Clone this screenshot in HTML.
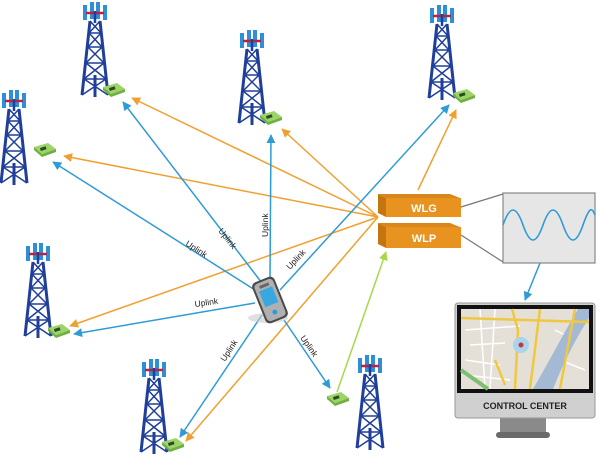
<!DOCTYPE html>
<html><head><meta charset="utf-8"><style>
html,body{margin:0;padding:0;background:#fff;}
svg{display:block;font-family:"Liberation Sans",sans-serif;}
</style></head><body>
<svg width="601" height="462" viewBox="0 0 601 462" xmlns="http://www.w3.org/2000/svg">
<defs>
<marker id="ab" viewBox="0 0 10 10" refX="9" refY="5" markerWidth="6" markerHeight="6" orient="auto"><path d="M0,0L10,5L0,10z" fill="#2e9bd6"/></marker>
<marker id="ao" viewBox="0 0 10 10" refX="9" refY="5" markerWidth="6" markerHeight="6" orient="auto"><path d="M0,0L10,5L0,10z" fill="#f0a030"/></marker>
<marker id="ag" viewBox="0 0 10 10" refX="9" refY="5" markerWidth="6" markerHeight="6" orient="auto"><path d="M0,0L10,5L0,10z" fill="#a8d84a"/></marker>
<g id="tw">
 <g stroke="#1f3f9a" fill="none">
  <path d="M-13,0 L-5,-74 M13,0 L5,-74 M0,2 L0,-20" stroke-width="3"/>
  <path d="M-11,-16 L11,-16 M-9,-32 L9,-32 M-7,-48 L7,-48 M-6,-62 L6,-62 M-11,-16 L9,-32 M11,-16 L-9,-32 M-9,-32 L7,-48 M9,-32 L-7,-48 M-7,-48 L6,-62 M7,-48 L-6,-62 M-6,-62 L5,-74 M6,-62 L-5,-74 M-13,0 L11,-16 M13,0 L-11,-16" stroke-width="1.5"/>
 </g>
 <rect x="-12" y="-90" width="4" height="15" fill="#2e8fd6"/>
 <rect x="-5" y="-93" width="4" height="17" fill="#2e8fd6"/>
 <rect x="1" y="-93" width="4" height="17" fill="#2e8fd6"/>
 <rect x="8" y="-90" width="4" height="15" fill="#2e8fd6"/>
 <path d="M-9,-82 L9,-82" stroke="#c02040" stroke-width="2.5"/>
 <path d="M0,-84 L0,-72" stroke="#1f3f9a" stroke-width="2.5"/>
</g>
<g id="lmu">
 <path d="M-10,-4 L4,-8 L12,-2 L-2,3 Z" fill="#9cd46a"/>
 <path d="M-10,-4 L-2,3 L-2,6 L-10,-1 Z M-2,3 L12,-2 L12,1 L-2,6 Z" fill="#6fb040"/>
 <rect x="-3" y="-4" width="6" height="3" fill="#2a4a20" transform="rotate(-18)"/>
</g>
</defs>

<use href="#tw" x="95" y="95"/>
<use href="#tw" x="252" y="123"/>
<use href="#tw" x="14" y="183"/>
<use href="#tw" x="442" y="98"/>
<use href="#tw" x="38" y="336"/>
<use href="#tw" x="154" y="452"/>
<use href="#tw" x="370" y="448"/>

<use href="#lmu" x="113" y="91"/>
<use href="#lmu" x="270" y="119"/>
<use href="#lmu" x="44" y="151"/>
<use href="#lmu" x="463" y="97"/>
<use href="#lmu" x="58" y="332"/>
<use href="#lmu" x="172" y="446"/>
<use href="#lmu" x="337" y="400"/>

<g stroke="#f0a030" stroke-width="1.5" fill="none" marker-end="url(#ao)">
 <line x1="378" y1="217" x2="132" y2="98"/>
 <line x1="378" y1="217" x2="64" y2="156"/>
 <line x1="378" y1="217" x2="282" y2="129"/>
 <line x1="418" y1="190" x2="456" y2="110"/>
 <line x1="378" y1="217" x2="70" y2="326"/>
 <line x1="378" y1="217" x2="186" y2="441"/>
</g>
<g stroke="#2e9bd6" stroke-width="1.5" fill="none" marker-end="url(#ab)">
 <line x1="262" y1="283" x2="123" y2="102"/>
 <line x1="255" y1="290" x2="53" y2="162"/>
 <line x1="270" y1="277" x2="271" y2="135"/>
 <line x1="280" y1="290" x2="449" y2="105"/>
 <line x1="255" y1="303" x2="74" y2="334"/>
 <line x1="262" y1="315" x2="180" y2="437"/>
 <line x1="284" y1="320" x2="330" y2="388"/>
 <line x1="540" y1="263" x2="525" y2="300"/>
</g>
<line x1="337" y1="392" x2="386" y2="252" stroke="#a8d84a" stroke-width="1.5" marker-end="url(#ag)"/>

<g font-size="8.5" fill="#222">
 <text x="0" y="0" transform="translate(218,231) rotate(52)">Uplink</text>
 <text x="0" y="0" transform="translate(185,245) rotate(33)">Uplink</text>
 <text x="0" y="0" transform="translate(268,237) rotate(-90)">Uplink</text>
 <text x="0" y="0" transform="translate(290,270) rotate(-47)">Uplink</text>
 <text x="0" y="0" transform="translate(195,307) rotate(-8)">Uplink</text>
 <text x="0" y="0" transform="translate(225,362) rotate(-57)">Uplink</text>
 <text x="0" y="0" transform="translate(300,338) rotate(55)">Uplink</text>
</g>

<ellipse cx="268" cy="318" rx="20" ry="5" fill="#ccc" opacity="0.6"/>
<g transform="translate(270,300) rotate(-22)">
 <rect x="-12" y="-22" width="24" height="44" rx="5" fill="#4a4a4a"/>
 <rect x="-10" y="-20" width="20" height="40" rx="4" fill="#b0b0b0"/>
 <rect x="-7" y="-12" width="14" height="17" fill="#3aa8e0"/>
 <rect x="-5" y="-17" width="10" height="3" fill="#666"/>
 <circle cx="0" cy="13" r="2.5" fill="#2e9bd6"/>
</g>

<g>
 <path d="M378,194 L450,194 L460,198 L386,198 Z" fill="#d9861a"/>
 <path d="M378,194 L386,198 L386,217 L378,213 Z" fill="#c47510"/>
 <rect x="386" y="198" width="75" height="19" fill="#e8931f"/>
 <text x="424" y="212" text-anchor="middle" font-size="11" font-weight="bold" fill="#fff">WLG</text>
 <path d="M378,223 L450,223 L460,227 L386,227 Z" fill="#d9861a"/>
 <path d="M378,223 L386,227 L386,248 L378,244 Z" fill="#c47510"/>
 <rect x="386" y="227" width="75" height="21" fill="#e8931f"/>
 <text x="424" y="242" text-anchor="middle" font-size="11" font-weight="bold" fill="#fff">WLP</text>
</g>
<g stroke="#777" stroke-width="1.2">
 <line x1="461" y1="207" x2="503" y2="194"/>
 <line x1="461" y1="235" x2="503" y2="262"/>
</g>
<rect x="503" y="193" width="92" height="70" fill="#e6e6e6" stroke="#888" stroke-width="1.2"/>
<path d="M503,225 C510,205 516,205 523,225 S536,245 543,225 S556,205 563,225 S576,245 583,225 S592,208 595,215" fill="none" stroke="#2e9bd6" stroke-width="1.6"/>

<rect x="500" y="416" width="46" height="18" fill="#8a8a8a"/>
<rect x="496" y="432" width="54" height="6" rx="3" fill="#6a6a6a"/>
<rect x="455" y="303" width="140" height="115" rx="3" fill="#d0d0d0" stroke="#999"/>
<rect x="457" y="305" width="136" height="88" fill="#111"/>
<rect x="461" y="309" width="128" height="80" fill="#e4e0d8"/>
<path d="M465,330 L520,326 M470,345 L505,343 M465,360 L500,365 M480,309 L485,389 M495,309 L490,389 M465,375 L510,380 M555,330 L575,340 M560,360 L585,370" stroke="#fff" stroke-width="1.5" fill="none"/>
<path d="M578,309 C560,340 550,360 533,389 L553,389 C565,360 575,340 589,318 L589,309 Z" fill="#a4b9d4"/>
<path d="M461,318 L589,322 M512,309 L518,330 L515,389 M540,309 L530,389 M575,309 L560,389 M495,360 L505,385" stroke="#f0c840" stroke-width="2.5" fill="none"/>
<path d="M461,370 L488,389" stroke="#7ac070" stroke-width="4"/>
<circle cx="521" cy="345" r="8" fill="#a8d4ec"/>
<circle cx="521" cy="345" r="2.5" fill="#d03040"/>
<text x="525" y="409" text-anchor="middle" font-size="9" font-weight="bold" fill="#222">CONTROL CENTER</text>
</svg>
</body></html>
